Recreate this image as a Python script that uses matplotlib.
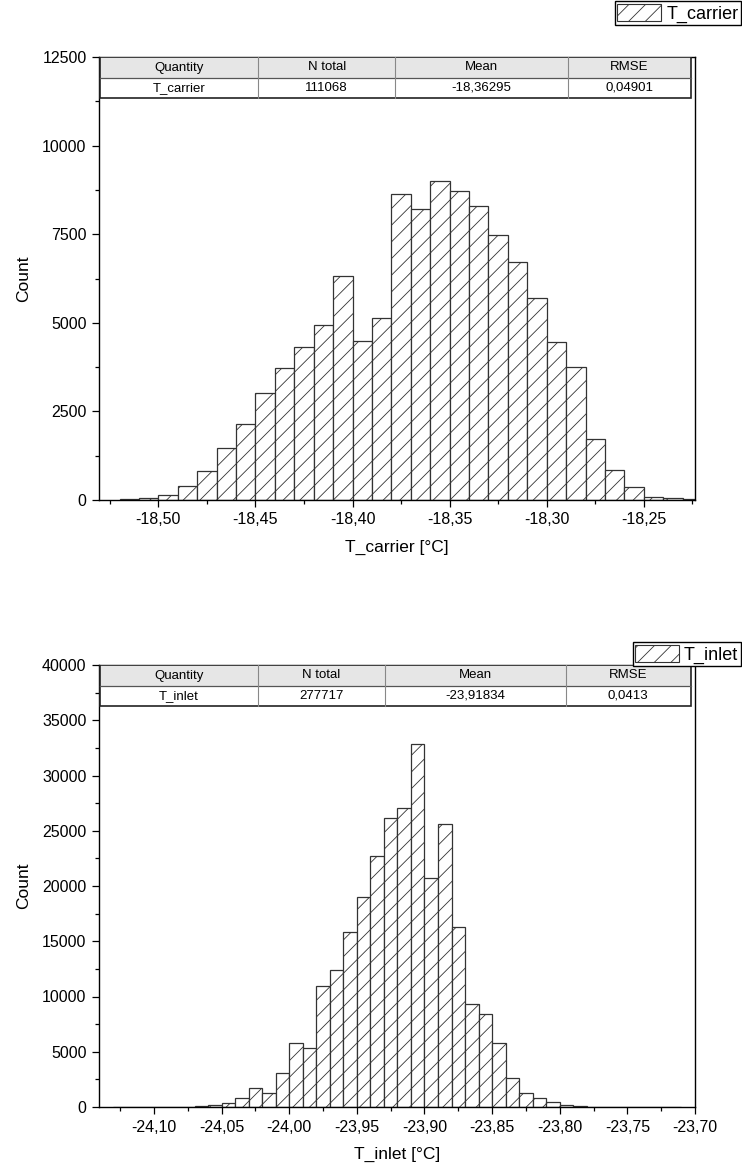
"""
Histograms of T_carrier and T_inlet with an Origin-style statistics table.
"""

import numpy as np
import matplotlib.pyplot as plt
from matplotlib.patches import Rectangle, Patch
from matplotlib.ticker import MultipleLocator, FuncFormatter

plt.rcParams["font.family"] = ["Liberation Sans", "DejaVu Sans"]
plt.rcParams["hatch.linewidth"] = 0.6
plt.rcParams["hatch.color"] = "#404040"

# ---- data -----------------------------------------------------------------
BIN_WIDTH = 0.01

carrier_first_edge = -18.52
carrier_counts = [28, 47, 132, 386, 818, 1458, 2154, 3019, 3715, 4307,
                  4938, 6330, 4477, 5126, 8624, 8201, 8991, 8728, 8305, 7477,
                  6706, 5690, 4449, 3743, 1712, 856, 376, 94, 47, 19]

inlet_first_edge = -24.13
inlet_counts = [3, 5, 8, 12, 25, 45, 120, 200, 400, 780,
                1690, 1300, 3100, 5790, 5340, 10980, 12430, 15840, 19010, 22750,
                26190, 27090, 32890, 20760, 25610, 16320, 9320, 8450, 5820, 2650,
                1270, 845, 450, 210, 90, 40, 15, 8, 5, 3, 2, 2]

table_header = ["Quantity", "N total", "Mean", "RMSE"]
carrier_row = ["T_carrier", "111068", "-18,36295", "0,04901"]
inlet_row = ["T_inlet", "277717", "-23,91834", "0,0413"]

carrier_cols = [0.002, 0.267, 0.497, 0.787, 0.993]
inlet_cols = [0.002, 0.267, 0.480, 0.783, 0.993]


def comma_fmt(x, pos):
    return f"{x:.2f}".replace(".", ",")


def draw_hist(ax, first_edge, counts):
    counts = np.asarray(counts)
    lefts = first_edge + BIN_WIDTH * np.arange(len(counts))
    ax.bar(lefts, counts, width=BIN_WIDTH, align="edge",
           facecolor="white", edgecolor="#333333", linewidth=0.9,
           hatch="//")


def draw_table(ax, cols, header, row, head_h, row_h):
    tr = ax.transAxes
    x0, x1 = cols[0], cols[-1]
    y_top = 1.0
    y_mid = y_top - head_h
    y_bot = y_mid - row_h
    ax.add_patch(Rectangle((x0, y_mid), x1 - x0, head_h, transform=tr,
                           facecolor="#e6e6e6", edgecolor="none", zorder=5))
    ax.add_patch(Rectangle((x0, y_bot), x1 - x0, row_h, transform=tr,
                           facecolor="white", edgecolor="none", zorder=5))
    ax.add_patch(Rectangle((x0, y_bot), x1 - x0, head_h + row_h, transform=tr,
                           facecolor="none", edgecolor="#222222",
                           linewidth=1.2, zorder=6))
    ax.plot([x0, x1], [y_mid, y_mid], transform=tr, color="#555555",
            linewidth=0.9, zorder=6)
    for c in cols[1:-1]:
        ax.plot([c, c], [y_bot, y_top], transform=tr, color="#888888",
                linewidth=0.8, zorder=6)
    for i in range(len(header)):
        xc = (cols[i] + cols[i + 1]) / 2
        ax.text(xc, y_mid + head_h / 2, header[i], transform=tr,
                ha="center", va="center", fontsize=9.5, zorder=7)
        ax.text(xc, y_bot + row_h / 2, row[i], transform=tr,
                ha="center", va="center", fontsize=9.5, zorder=7)


def style_axes(ax, xlim, ylim, ymajor, xlabel):
    ax.set_xlim(*xlim)
    ax.set_ylim(*ylim)
    ax.xaxis.set_major_locator(MultipleLocator(0.05))
    ax.xaxis.set_minor_locator(MultipleLocator(0.025))
    ax.yaxis.set_major_locator(MultipleLocator(ymajor))
    ax.yaxis.set_minor_locator(MultipleLocator(ymajor / 2))
    ax.xaxis.set_major_formatter(FuncFormatter(comma_fmt))
    ax.tick_params(which="both", direction="out", top=False, right=False,
                   labelsize=11.5, width=0.9)
    ax.tick_params(which="major", length=5, pad=4)
    ax.tick_params(which="minor", length=3)
    for s in ax.spines.values():
        s.set_linewidth(1.0)
    ax.set_ylabel("Count", fontsize=12.5, labelpad=8)
    ax.set_xlabel(xlabel, fontsize=12.5, labelpad=9)


W, H = 742, 1171
fig = plt.figure(figsize=(W / 100, H / 100), dpi=100)

ax1 = fig.add_axes([99 / W, 1 - 500 / H, 596 / W, 443 / H])
draw_hist(ax1, carrier_first_edge, carrier_counts)
style_axes(ax1, (-18.5306, -18.2236), (0, 12500), 2500, "T_carrier [°C]")
draw_table(ax1, carrier_cols, table_header, carrier_row, 21 / 443, 20 / 443)

ax2 = fig.add_axes([99 / W, 1 - 1107 / H, 596 / W, 442 / H])
draw_hist(ax2, inlet_first_edge, inlet_counts)
style_axes(ax2, (-24.1406, -23.70), (0, 40000), 5000, "T_inlet [°C]")
draw_table(ax2, inlet_cols, table_header, inlet_row, 21 / 442, 20 / 442)

for label, y_top in [("T_carrier", 1.0), ("T_inlet", 1 - 641 / H)]:
    handle = Patch(facecolor="white", edgecolor="#333333", hatch="//",
                   linewidth=0.8)
    fig.legend([handle], [label], loc="upper right",
               bbox_to_anchor=(1 - 1 / W, y_top - 1 / H), fontsize=13,
               frameon=True, fancybox=False, edgecolor="black",
               framealpha=1, borderpad=0.15, handlelength=2.4,
               handleheight=1.1, handletextpad=0.3, borderaxespad=0)

fig.savefig("out.png", dpi=100)
